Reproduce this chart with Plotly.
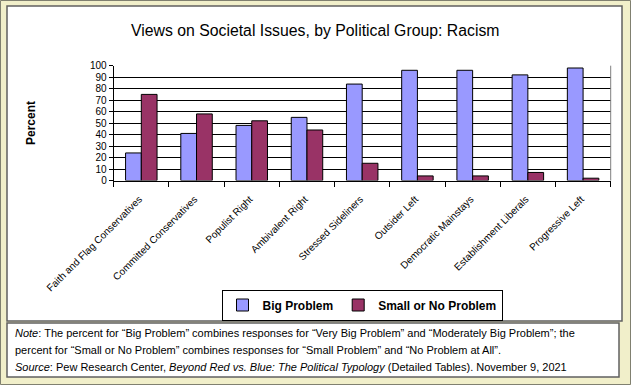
import plotly.graph_objects as go

categories = ["Faith and Flag Conservatives", "Committed Conservatives", "Populist Right",
              "Ambivalent Right", "Stressed Sideliners", "Outsider Left",
              "Democratic Mainstays", "Establishment Liberals", "Progressive Left"]
big_problem = [24, 41, 48, 55, 84, 96, 96, 92, 98]
small_or_no = [75, 58, 52, 44, 15, 4, 4, 7, 2]
y_ticks = list(range(0, 101, 10))

W, H = 631, 385
FONT = "Liberation Sans, Arial, sans-serif"

def px(x):
    return x / W

def py(y):
    return 1 - y / H

fig = go.Figure()
fig.add_trace(go.Bar(x=categories, y=big_problem, name="Big Problem",
                     marker=dict(color="#9999FF", line=dict(color="black", width=1))))
fig.add_trace(go.Bar(x=categories, y=small_or_no, name="Small or No Problem",
                     marker=dict(color="#993366", line=dict(color="black", width=1))))

fig.update_layout(
    width=W, height=H,
    margin=dict(l=0, r=0, t=0, b=0, autoexpand=False),
    paper_bgcolor="#F1EFCA",
    plot_bgcolor="#C0C0C0",
    barmode="group", bargap=0.43, bargroupgap=0,
    font=dict(family=FONT, color="black", size=10),
    showlegend=True,
    legend=dict(orientation="h", x=px(362), y=py(305), xanchor="center", yanchor="middle",
                bgcolor="white", bordercolor="black", borderwidth=1,
                font=dict(size=12, family=FONT, weight="bold"),
                itemwidth=30, tracegroupgap=0),
    xaxis=dict(domain=[px(113.7), px(610.7)], type="category", automargin=False,
               showline=True, linecolor="black", linewidth=1,
               ticks="outside", ticklen=5, tickcolor="black", tickson="boundaries",
               tickangle=-45, tickfont=dict(size=10, family=FONT),
               ticklabelshift=-2, ticklabelstandoff=8,
               showgrid=False, fixedrange=True),
    yaxis=dict(domain=[py(180.5), py(65.7)], range=[0, 100], automargin=False,
               tickvals=y_ticks, ticktext=[str(v) for v in y_ticks],
               showline=True, linecolor="black", linewidth=1,
               ticks="outside", ticklen=4, tickcolor="black",
               showgrid=True, gridcolor="black", gridwidth=1,
               tickfont=dict(size=10, family=FONT), zeroline=False, fixedrange=True),
)

shapes = [
    # outer frame
    dict(type="rect", xref="paper", yref="paper", x0=px(0.5), x1=px(630.5), y0=py(384.5), y1=py(0.5),
         line=dict(color="#808070", width=1), layer="below"),
    # chart box
    dict(type="rect", xref="paper", yref="paper", x0=px(7), x1=px(622), y0=py(321), y1=py(6),
         fillcolor="white", line=dict(color="#606060", width=1.5), layer="below"),
    # note box
    dict(type="rect", xref="paper", yref="paper", x0=px(7), x1=px(619), y0=py(377), y1=py(323),
         fillcolor="white", line=dict(color="#606060", width=1.5), layer="below"),
    # plot area right border
    dict(type="line", xref="paper", yref="paper", x0=px(610.7), x1=px(610.7), y0=py(180.5), y1=py(65.7),
         line=dict(color="#808080", width=1)),
]
fig.update_layout(shapes=shapes)

note_font = dict(size=11, family=FONT)
annotations = [
    dict(text="Views on Societal Issues, by Political Group: Racism", x=px(315), y=py(30),
         xref="paper", yref="paper", showarrow=False, xanchor="center", yanchor="middle",
         font=dict(size=15.8, family=FONT)),
    dict(text="<b>Percent</b>", x=px(31), y=py(123), xref="paper", yref="paper", showarrow=False,
         textangle=-90, xanchor="center", yanchor="middle", font=dict(size=12, family=FONT)),
    dict(text="<i>Note</i>: The percent for \u201cBig Problem\u201d combines responses for \u201cVery Big Problem\u201d and \u201cModerately Big Problem\u201d; the",
         x=px(13), y=py(333), xref="paper", yref="paper", showarrow=False, xanchor="left", yanchor="middle",
         align="left", font=note_font),
    dict(text="percent for \u201cSmall or No Problem\u201d combines responses for \u201cSmall Problem\u201d and \u201cNo Problem at All\u201d.",
         x=px(13), y=py(350), xref="paper", yref="paper", showarrow=False, xanchor="left", yanchor="middle",
         align="left", font=note_font),
    dict(text="<i>Source</i>: Pew Research Center, <i>Beyond Red vs. Blue: The Political Typology</i> (Detailed Tables). November 9, 2021",
         x=px(13), y=py(367), xref="paper", yref="paper", showarrow=False, xanchor="left", yanchor="middle",
         align="left", font=note_font),
]
fig.update_layout(annotations=annotations)

fig.write_html("out.html", config={"displayModeBar": False},
               post_script="document.body.style.margin='0';document.body.style.padding='0';")
